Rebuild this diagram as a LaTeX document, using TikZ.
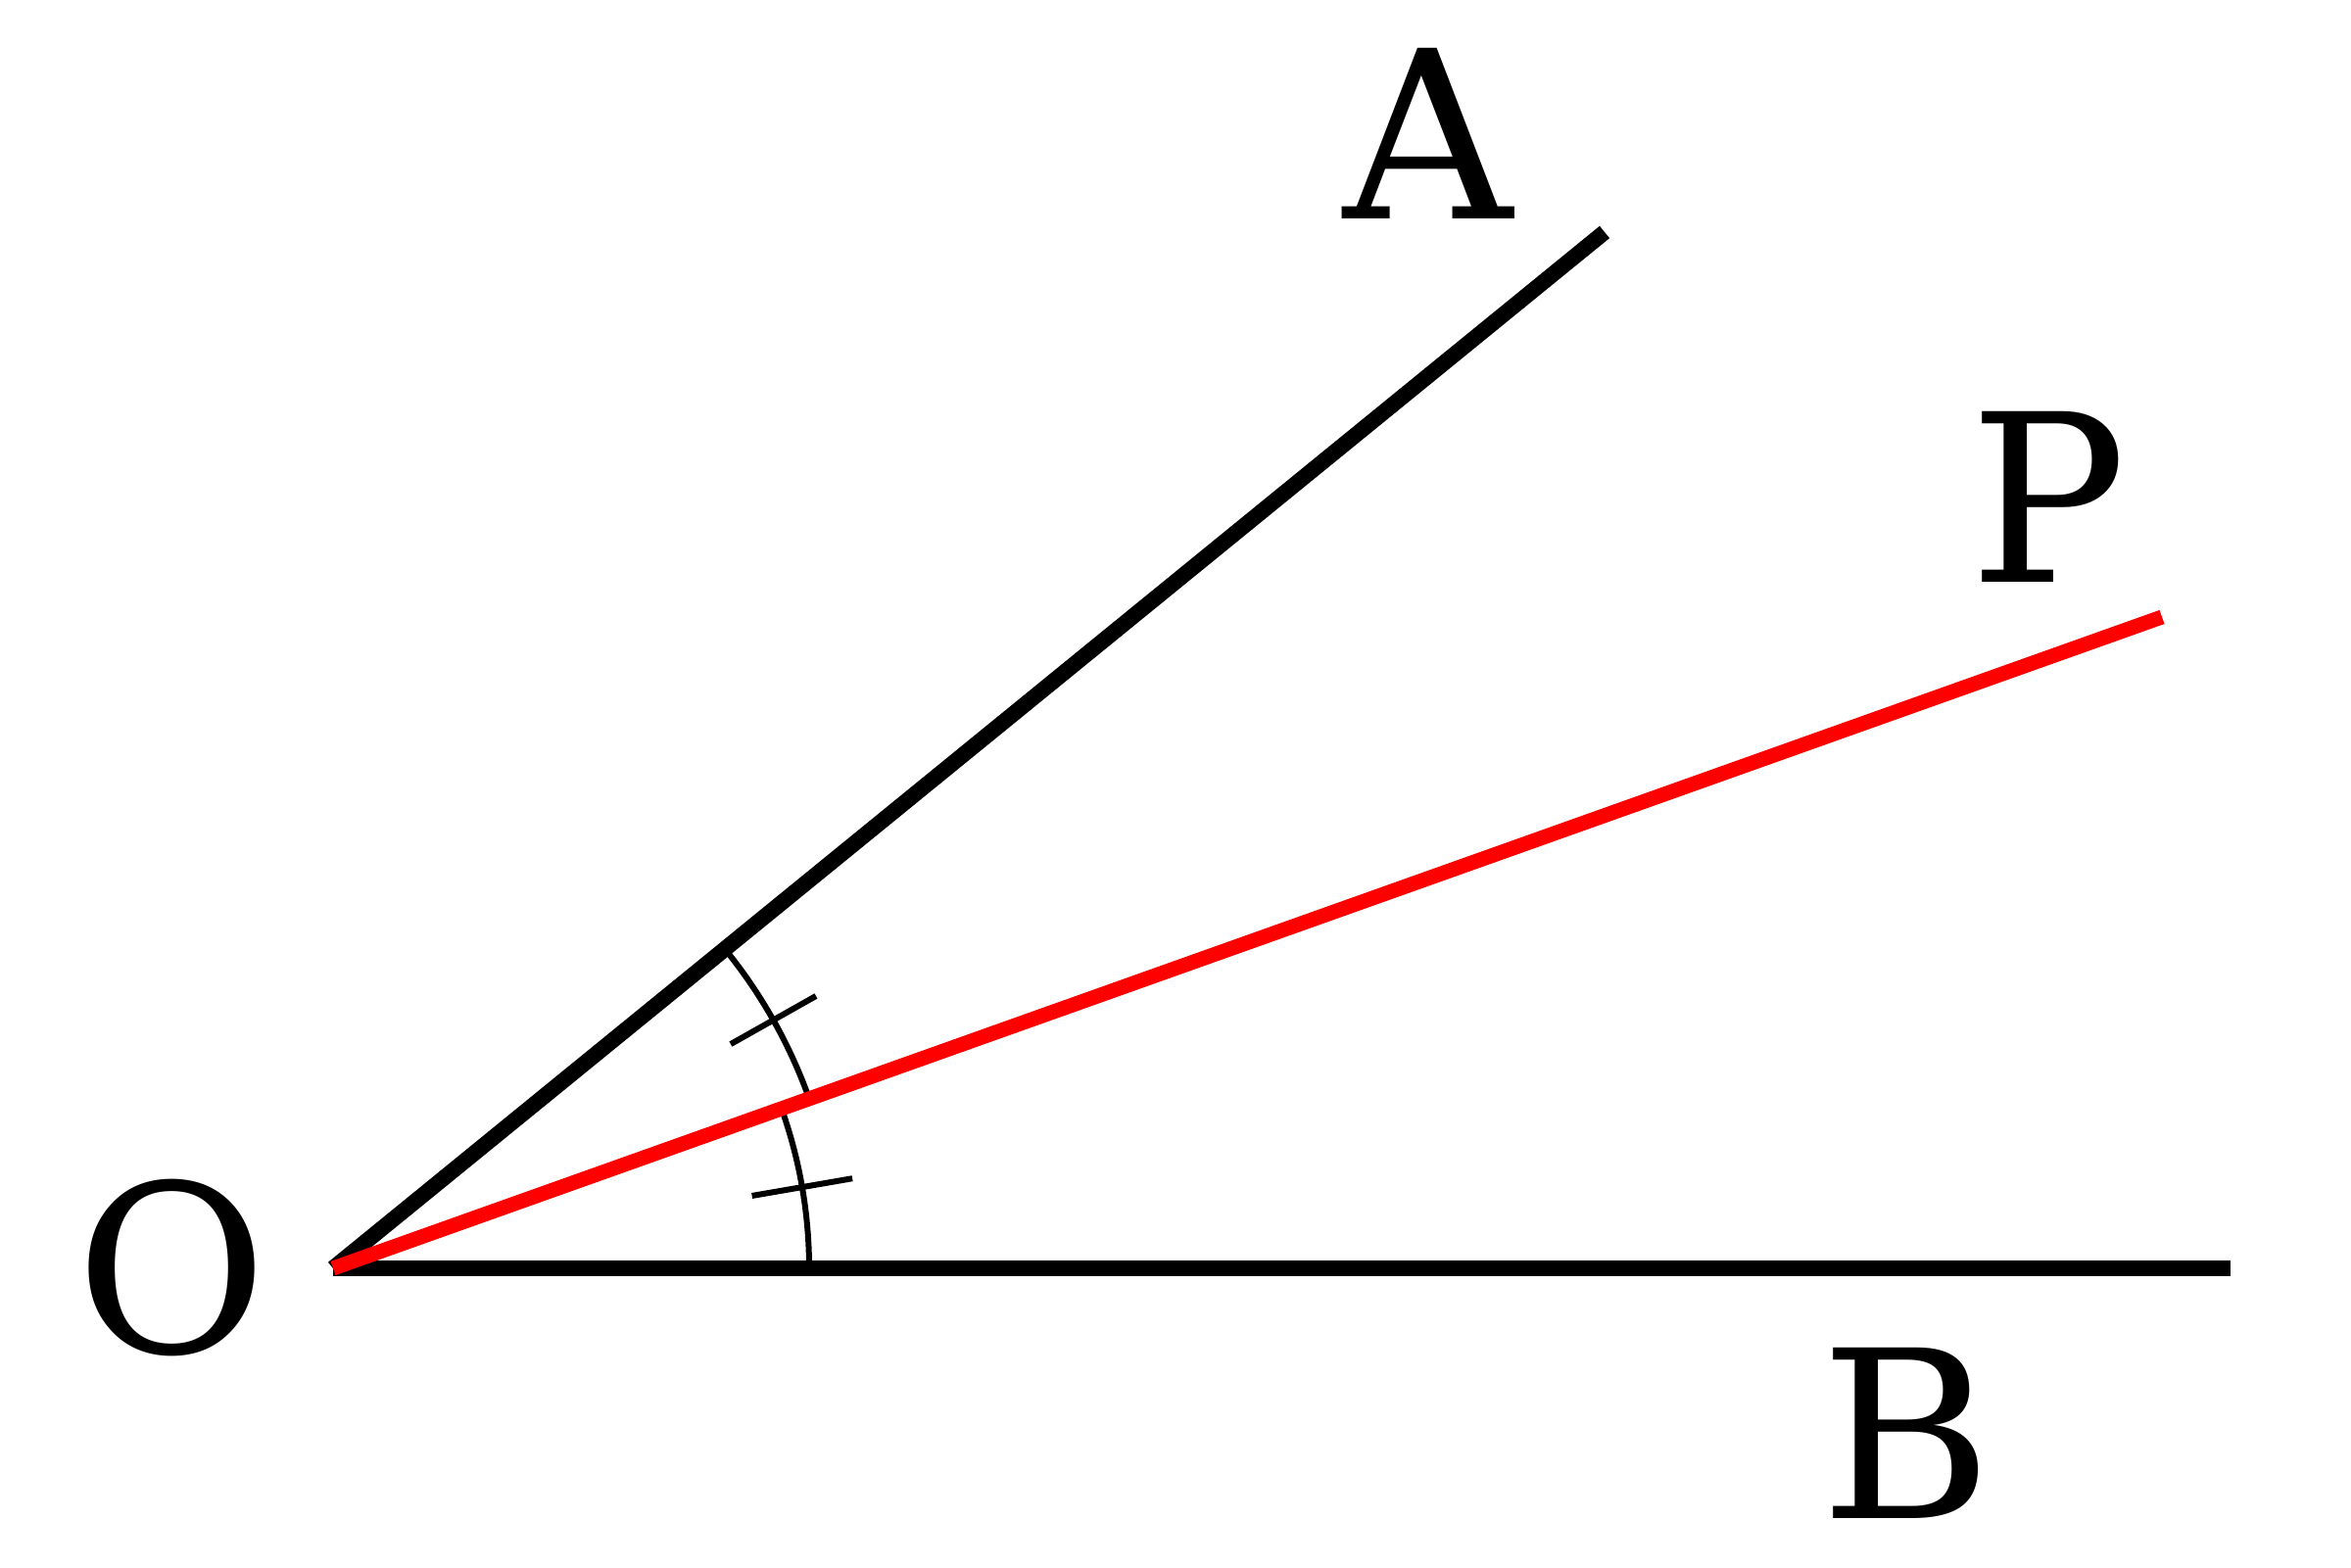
\documentclass[tikz,border=0pt]{standalone}
\usepackage{fontspec}
\setmainfont{DejaVu Serif}
\tikzstyle{ray}=[line width=0.16cm]
\tikzstyle{bisector}=[line width=0.15cm, red]
\tikzstyle{arcline}=[line width=0.06cm]
\tikzstyle{letter}=[inner sep=0pt, font=\fontsize{68}{80}\selectfont]

\begin{document}
\begin{tikzpicture}
\useasboundingbox (0,0) rectangle (24,16);
\coordinate (O) at (3.40, 3.05);
\coordinate (A) at (16.38, 13.63);
\coordinate (B) at (22.77, 3.05);
\coordinate (P) at (22.07, 9.70);
\node[letter] at (1.75, 3.05) (o) {O};
\node[letter] at (14.58, 14.64) (a) {A};
\node[letter] at (20.91, 10.93) (p) {P};
\node[letter] at (19.46, 1.37) (b) {B};
\draw[ray] (O) -- (A);
\draw[ray] (O) -- (B);
\draw[arcline] ([shift={(0:4.86)}]O) arc (0:19.64:4.86);
\draw[arcline] ([shift={(19.64:5.16)}]O) arc (19.64:39.2:5.16);
\draw[arcline] ([shift={(9.82:4.34)}]O) -- ([shift={(9.82:5.38)}]O);
\draw[arcline] ([shift={(29.42:4.66)}]O) -- ([shift={(29.42:5.66)}]O);
\draw[bisector] (O) -- (P);
\end{tikzpicture}
\end{document}
